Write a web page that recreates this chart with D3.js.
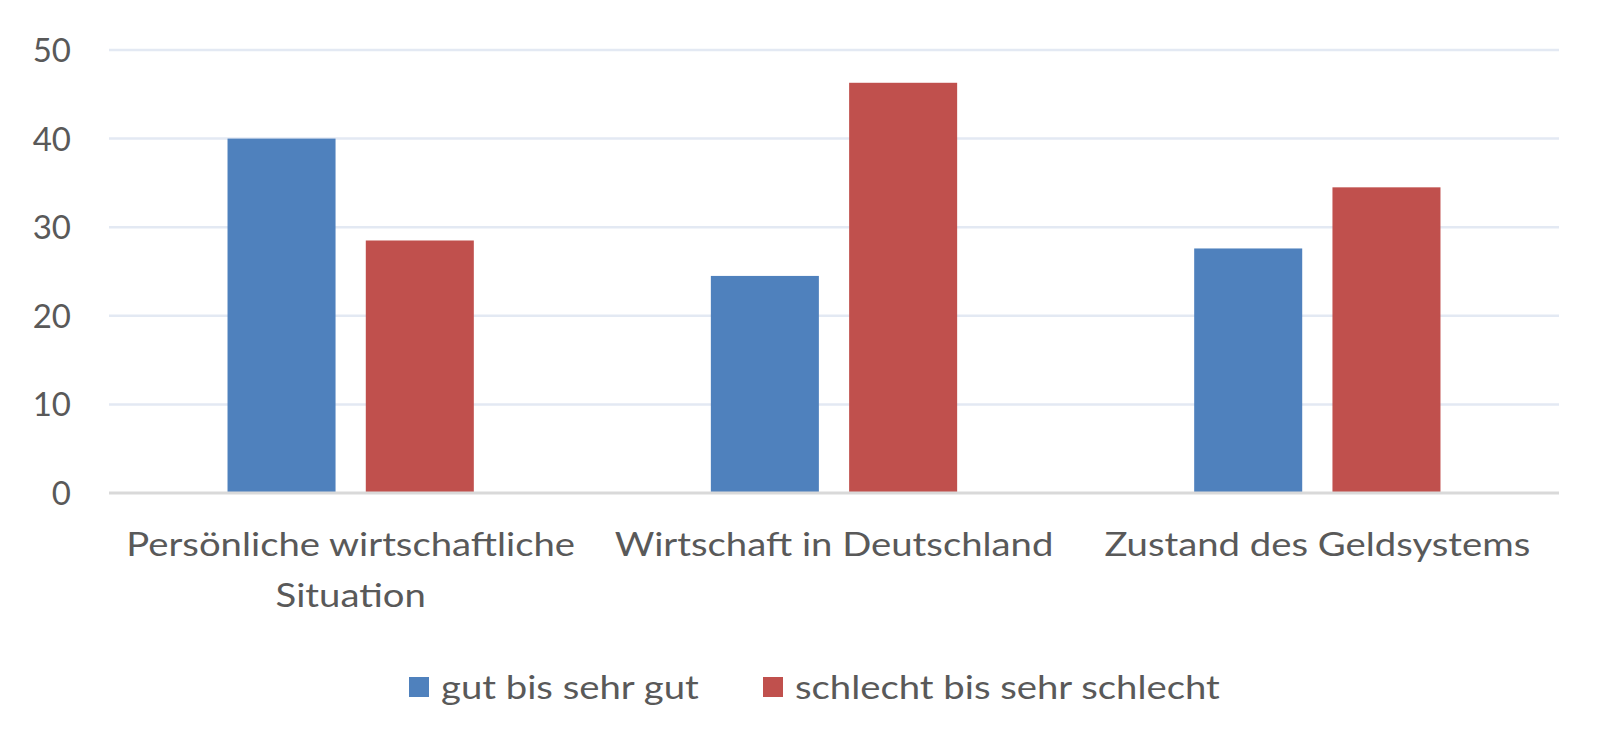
<!DOCTYPE html>
<html>
<head>
<meta charset="utf-8">
<script src="https://cdn.jsdelivr.net/npm/d3@7"></script>
<style>
  body { margin: 0; background: #fff; }
  text { font-family: Lato, "Open Sans", sans-serif; fill: #595959; }
</style>
</head>
<body>
<svg></svg>
<script>
// data
var categories = ["Persönliche wirtschaftliche Situation", "Wirtschaft in Deutschland", "Zustand des Geldsystems"];
var seriesNames = ["gut bis sehr gut", "schlecht bis sehr schlecht"];
var gut = [40.0, 24.5, 27.6];
var schlecht = [28.5, 46.3, 34.5];
var yTicks = [0, 10, 20, 30, 40, 50];
var colors = ["#4f81bd", "#c0504d"];

var svgWidth = 1610, svgHeight = 755;
var margin = { top: 50, right: 51, bottom: 262, left: 109 };
var width = svgWidth - margin.left - margin.right;
var height = svgHeight - margin.top - margin.bottom;
var stretch = 1.16; // the reference text is a bit wide

var svg = d3.select('svg')
    .attr("width", svgWidth)
    .attr("height", svgHeight);

var g = svg.append('g')
    .attr("transform", "translate(" + margin.left + "," + margin.top + ")");

var x = d3.scaleBand().domain(categories).range([0, width]).paddingInner(0).paddingOuter(0);
var y = d3.scaleLinear().domain([0, 50]).range([height, 0]);

// bar layout inside each band (Excel style gap width / overlap)
var barW = x.bandwidth() * 0.2235;
var barGap = barW * 0.28;

// gridlines
g.selectAll('.grid')
    .data(yTicks.filter(function(d) { return d > 0; }))
    .enter()
    .append('line')
    .attr('x1', 0).attr('x2', width)
    .attr('y1', function(d) { return y(d); })
    .attr('y2', function(d) { return y(d); })
    .attr('stroke', '#e3e9f3')
    .attr('stroke-width', 2.5);

// y axis labels
var yAxis = d3.axisLeft(y).tickValues(yTicks).tickSize(0).tickPadding(38);
var yg = g.append('g').call(yAxis);
yg.select('.domain').remove();
yg.selectAll('text')
    .style('font-size', '33px')
    .attr('fill', '#595959')
    .attr('dy', '0.35em');

// bars
var rows = categories.map(function(c, i) { return { cat: c, vals: [gut[i], schlecht[i]] }; });

var groups = g.selectAll('.grp')
    .data(rows)
    .enter()
    .append('g')
    .attr('transform', function(d) {
        return "translate(" + (x(d.cat) + x.bandwidth() / 2) + ",0)";
    });

groups.selectAll('rect')
    .data(function(d) { return d.vals; })
    .enter()
    .append('rect')
    .attr('x', function(d, i) { return i === 0 ? -barGap / 2 - barW : barGap / 2; })
    .attr('width', barW)
    .attr('y', function(d) { return y(d); })
    .attr('height', function(d) { return y(0) - y(d); })
    .attr('fill', function(d, i) { return colors[i]; });

// zero axis line
g.append('line')
    .attr('x1', 0).attr('x2', width)
    .attr('y1', y(0)).attr('y2', y(0))
    .attr('stroke', '#d9d9d9')
    .attr('stroke-width', 3);

// category labels (wrapped like the original)
var catLines = [["Persönliche wirtschaftliche", "Situation"], ["Wirtschaft in Deutschland"], ["Zustand des Geldsystems"]];
var catG = g.selectAll('.cat')
    .data(categories)
    .enter()
    .append('text')
    .attr('text-anchor', 'middle')
    .style('font-size', '33px')
    .attr('transform', function(d) {
        return "translate(" + (x(d) + x.bandwidth() / 2) + "," + (y(0) + 63) + ") scale(" + stretch + ",1)";
    });
catG.selectAll('tspan')
    .data(function(d, i) { return catLines[i]; })
    .enter()
    .append('tspan')
    .attr('x', 0)
    .attr('dy', function(d, i) { return i === 0 ? 0 : 51; })
    .text(function(d) { return d; });

// legend
var legendX = [409, 763];
var legend = svg.selectAll('.legend')
    .data(seriesNames)
    .enter()
    .append('g')
    .attr('transform', function(d, i) { return "translate(" + legendX[i] + ",677)"; });
legend.append('rect')
    .attr('width', 20).attr('height', 20)
    .attr('fill', function(d, i) { return colors[i]; });
legend.append('text')
    .attr('transform', "translate(32,10) scale(" + stretch + ",1)")
    .attr('dy', '0.35em')
    .style('font-size', '33px')
    .text(function(d) { return d; });
</script>
</body>
</html>
